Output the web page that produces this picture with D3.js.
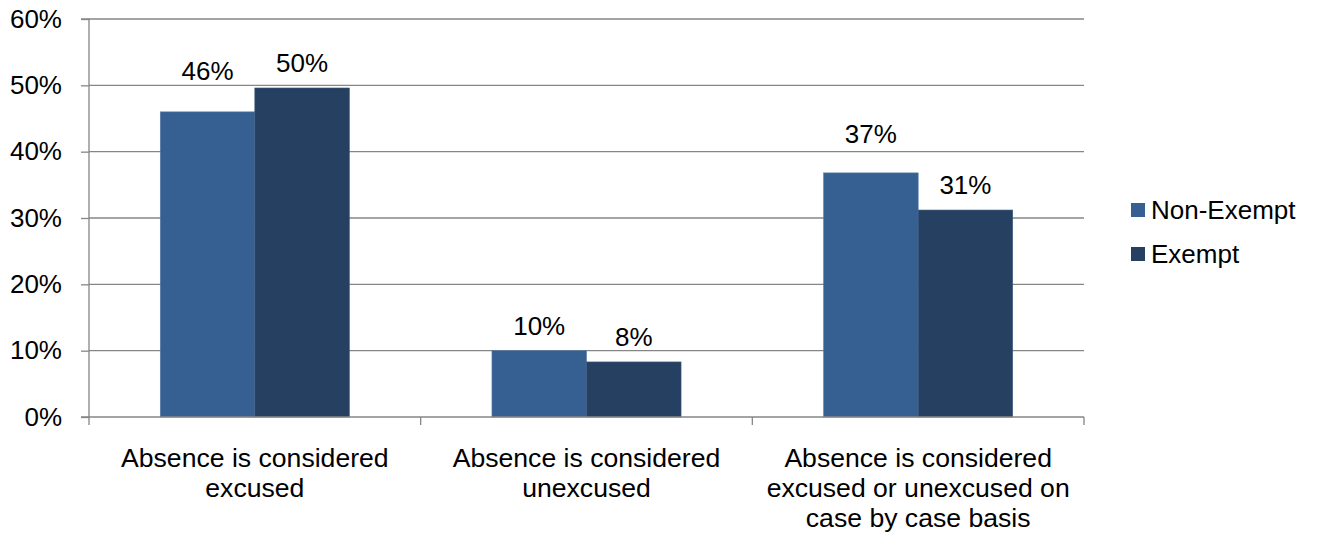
<!DOCTYPE html>
<html><head><meta charset="utf-8">
<script src="https://cdn.jsdelivr.net/npm/d3@7"></script>
<style>body{margin:0;background:#fff}svg{display:block;font-family:"Liberation Sans",Arial,sans-serif}</style>
</head><body>
<svg id="c" width="1317" height="535"></svg>
<script>
const categories = [
  ["Absence is considered", "excused"],
  ["Absence is considered", "unexcused"],
  ["Absence is considered", "excused or unexcused on", "case by case basis"]
];
const seriesNames = ["Non-Exempt", "Exempt"];
const nonExempt = [0.46, 0.10, 0.368];
const exempt = [0.496, 0.083, 0.312];
const labelTexts = [["46%", "10%", "37%"], ["50%", "8%", "31%"]];
const yTicks = [0, 0.1, 0.2, 0.3, 0.4, 0.5, 0.6];
const colors = ["#376092", "#254061"];
// extra lift of individual data labels (moved in original)
const labelLift = [[16, 0, 14], [0, 0, 0]];

(function () {
const FS = 26;
const svg = d3.select("#c");
const pL = 89, pR = 1084, pT = 19, pB = 417;
const x = d3.scaleBand().domain(d3.range(categories.length)).range([pL, pR]).paddingInner(0).paddingOuter(0);
const inner = d3.scaleBand().domain(d3.range(seriesNames.length)).range([0, x.bandwidth()]).paddingInner(0).paddingOuter(0.754);
const y = d3.scaleLinear().domain([0, 0.6]).range([pB, pT]);
const series = [nonExempt, exempt];

// gridlines
svg.append("g").selectAll("line").data(yTicks.filter(d => d > 0)).join("line")
  .attr("x1", pL).attr("x2", pR).attr("y1", d => y(d)).attr("y2", d => y(d))
  .attr("stroke", "#868686").attr("stroke-width", 1.3);

// y axis
const yAxis = d3.axisLeft(y).tickValues(yTicks).tickFormat(d3.format(".0%")).tickSize(8).tickPadding(19);
const gy = svg.append("g").attr("transform", `translate(${pL},0)`).call(yAxis);
gy.attr("font-size", FS).attr("font-family", "Liberation Sans, Arial, sans-serif");
gy.select(".domain").attr("stroke", "#868686").attr("stroke-width", 1.3).attr("d", `M-8,${pT}H0V${pB}H-8`);
gy.selectAll(".tick line").attr("stroke", "#868686").attr("stroke-width", 1.3);
gy.selectAll(".tick text").attr("font-size", FS).attr("fill", "#000");

// bars
series.forEach((vals, si) => {
  svg.append("g").selectAll("rect").data(vals).join("rect")
    .attr("x", (d, i) => x(i) + inner(si))
    .attr("width", inner.bandwidth())
    .attr("y", d => y(d))
    .attr("height", d => y(0) - y(d))
    .attr("fill", colors[si])
    .attr("stroke", si === 0 ? "#5579a6" : "#3d5a80").attr("stroke-width", 0.6);
});

// x axis
svg.append("line").attr("x1", pL).attr("x2", pR).attr("y1", pB).attr("y2", pB)
  .attr("stroke", "#868686").attr("stroke-width", 1.3);
const bounds = d3.range(categories.length + 1).map(i => i < categories.length ? x(i) : pR);
svg.append("g").selectAll("line").data(bounds).join("line")
  .attr("x1", d => d).attr("x2", d => d).attr("y1", pB).attr("y2", pB + 8)
  .attr("stroke", "#868686").attr("stroke-width", 1.3);

// category labels
categories.forEach((lines, i) => {
  const t = svg.append("text").attr("text-anchor", "middle").attr("font-size", 26.6).attr("fill", "#000");
  lines.forEach((l, j) => t.append("tspan").attr("x", x(i) + x.bandwidth() / 2).attr("y", 467 + j * 30).text(l));
});

// data labels
series.forEach((vals, si) => {
  svg.append("g").selectAll("text").data(vals).join("text")
    .attr("x", (d, i) => x(i) + inner(si) + inner.bandwidth() / 2)
    .attr("y", (d, i) => y(d) - 16 - labelLift[si][i])
    .attr("text-anchor", "middle").attr("font-size", FS).attr("fill", "#000")
    .text((d, i) => labelTexts[si][i]);
});

// legend
const lg = svg.append("g").selectAll("g").data(seriesNames).join("g")
  .attr("transform", (d, i) => `translate(1131,${203 + i * 44})`);
lg.append("rect").attr("width", 14).attr("height", 14).attr("fill", (d, i) => colors[i]);
lg.append("text").attr("x", 20).attr("y", 16).attr("font-size", FS).attr("fill", "#000").text(d => d);
})();
</script>
</body></html>
